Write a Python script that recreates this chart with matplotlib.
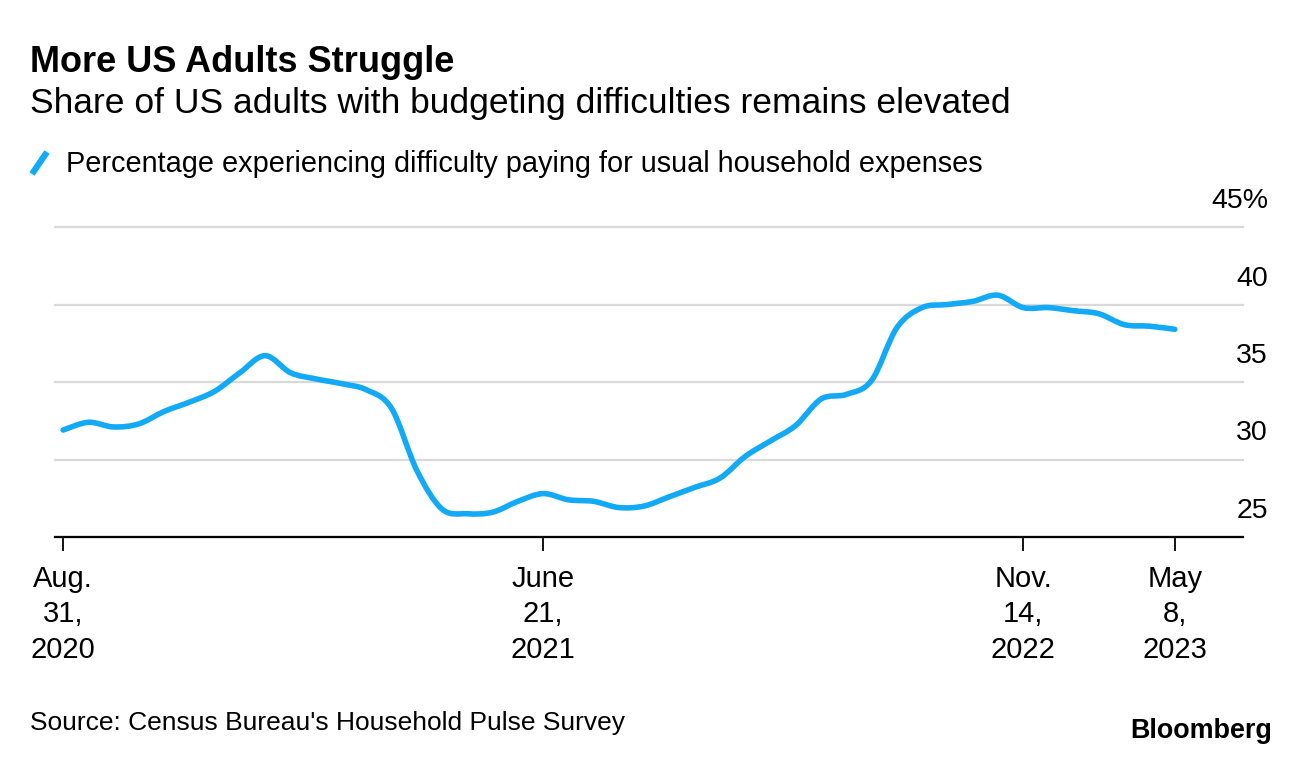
import matplotlib
matplotlib.use("Agg")
import matplotlib.pyplot as plt
from matplotlib.path import Path
from matplotlib.patches import PathPatch
from matplotlib.lines import Line2D
from matplotlib.transforms import offset_copy

# Household Pulse Survey waves (week 13 .. week 57), % with difficulty paying usual expenses
share = [31.9, 32.4, 32.1, 32.3, 33.1, 33.7, 34.4, 35.6, 36.7, 35.6,
         35.2, 34.9, 34.5, 33.3, 29.3, 26.8, 26.5, 26.6, 27.3, 27.8,
         27.4, 27.3, 26.9, 27.0, 27.6, 28.2, 28.8, 30.2, 31.2, 32.2,
         33.9, 34.2, 35.1, 38.5, 39.8, 40.0, 40.2, 40.6, 39.8, 39.8,
         39.6, 39.4, 38.7, 38.6, 38.4]
tick_idx = [0, 19, 38, 44]
tick_labels = ["Aug.\n31,\n2020", "June\n21,\n2021", "Nov.\n14,\n2022", "May\n8,\n2023"]
y_ticks = [25, 30, 35, 40, 45]
y_labels = ["25", "30", "35", "40", "45%"]

BLUE = "#12a9f6"
plt.rcParams["font.family"] = ["Liberation Sans", "DejaVu Sans"]

fig = plt.figure(figsize=(12.96, 7.64), dpi=100)
fig.patch.set_facecolor("white")
ax = fig.add_axes([55 / 1296, 1 - 537 / 764, 1188 / 1296, 310 / 764])

# smooth curve through the points (Catmull-Rom as cubic Bezier segments)
pts = list(zip(range(len(share)), share))
verts = [pts[0]]
codes = [Path.MOVETO]
n = len(pts)
for i in range(n - 1):
    p0 = pts[max(i - 1, 0)]
    p1 = pts[i]
    p2 = pts[i + 1]
    p3 = pts[min(i + 2, n - 1)]
    c1 = (p1[0] + (p2[0] - p0[0]) / 6, p1[1] + (p2[1] - p0[1]) / 6)
    c2 = (p2[0] - (p3[0] - p1[0]) / 6, p2[1] - (p3[1] - p1[1]) / 6)
    verts += [c1, c2, p2]
    codes += [Path.CURVE4] * 3
ax.add_patch(PathPatch(Path(verts, codes), fill=False, edgecolor=BLUE,
                       lw=4.0, capstyle="round", joinstyle="round", zorder=3))

ax.set_xlim(-0.32, 46.7)
ax.set_ylim(25, 45)

for sp in ["top", "right", "left"]:
    ax.spines[sp].set_visible(False)
ax.spines["bottom"].set_linewidth(1.6)
ax.spines["bottom"].set_zorder(4)

ax.set_yticks(y_ticks)
ax.yaxis.set_tick_params(length=0, labelleft=False)
ax.grid(axis="y", color="#d9d9d9", lw=1.6)
for gl in ax.get_ygridlines():
    gl.set_clip_on(False)
ax.set_axisbelow(True)

ytrans = offset_copy(ax.get_yaxis_transform(), fig=fig, x=25, y=26, units="dots")
for v, lab in zip(y_ticks, y_labels):
    ax.text(1.0, v, lab, transform=ytrans, ha="right", va="center", fontsize=20.5)

ax.set_xticks(tick_idx)
ax.set_xticklabels(tick_labels, fontsize=21, linespacing=1.34)
ax.tick_params(axis="x", length=10, width=1.3, pad=10, color="black")

fig.text(30 / 1296, 1 - 63 / 764, "More US Adults Struggle", fontsize=26,
         fontweight="bold", va="center", ha="left")
fig.text(30 / 1296, 1 - 104 / 764, "Share of US adults with budgeting difficulties remains elevated",
         fontsize=25.5, va="center", ha="left")
fig.add_artist(Line2D([32 / 1296, 47 / 1296], [1 - 174 / 764, 1 - 152 / 764],
                      color=BLUE, lw=4.5, solid_capstyle="butt", transform=fig.transFigure))
fig.text(66 / 1296, 1 - 164 / 764, "Percentage experiencing difficulty paying for usual household expenses",
         fontsize=20.8, va="center", ha="left")
fig.text(30 / 1296, 1 - 723 / 764, "Source: Census Bureau's Household Pulse Survey",
         fontsize=19, va="center", ha="left")
fig.text(1272 / 1296, 1 - 731 / 764, "Bloomberg", fontsize=19.4, fontweight="bold",
         va="center", ha="right")

fig.savefig("out.png", dpi=100, facecolor="white")
